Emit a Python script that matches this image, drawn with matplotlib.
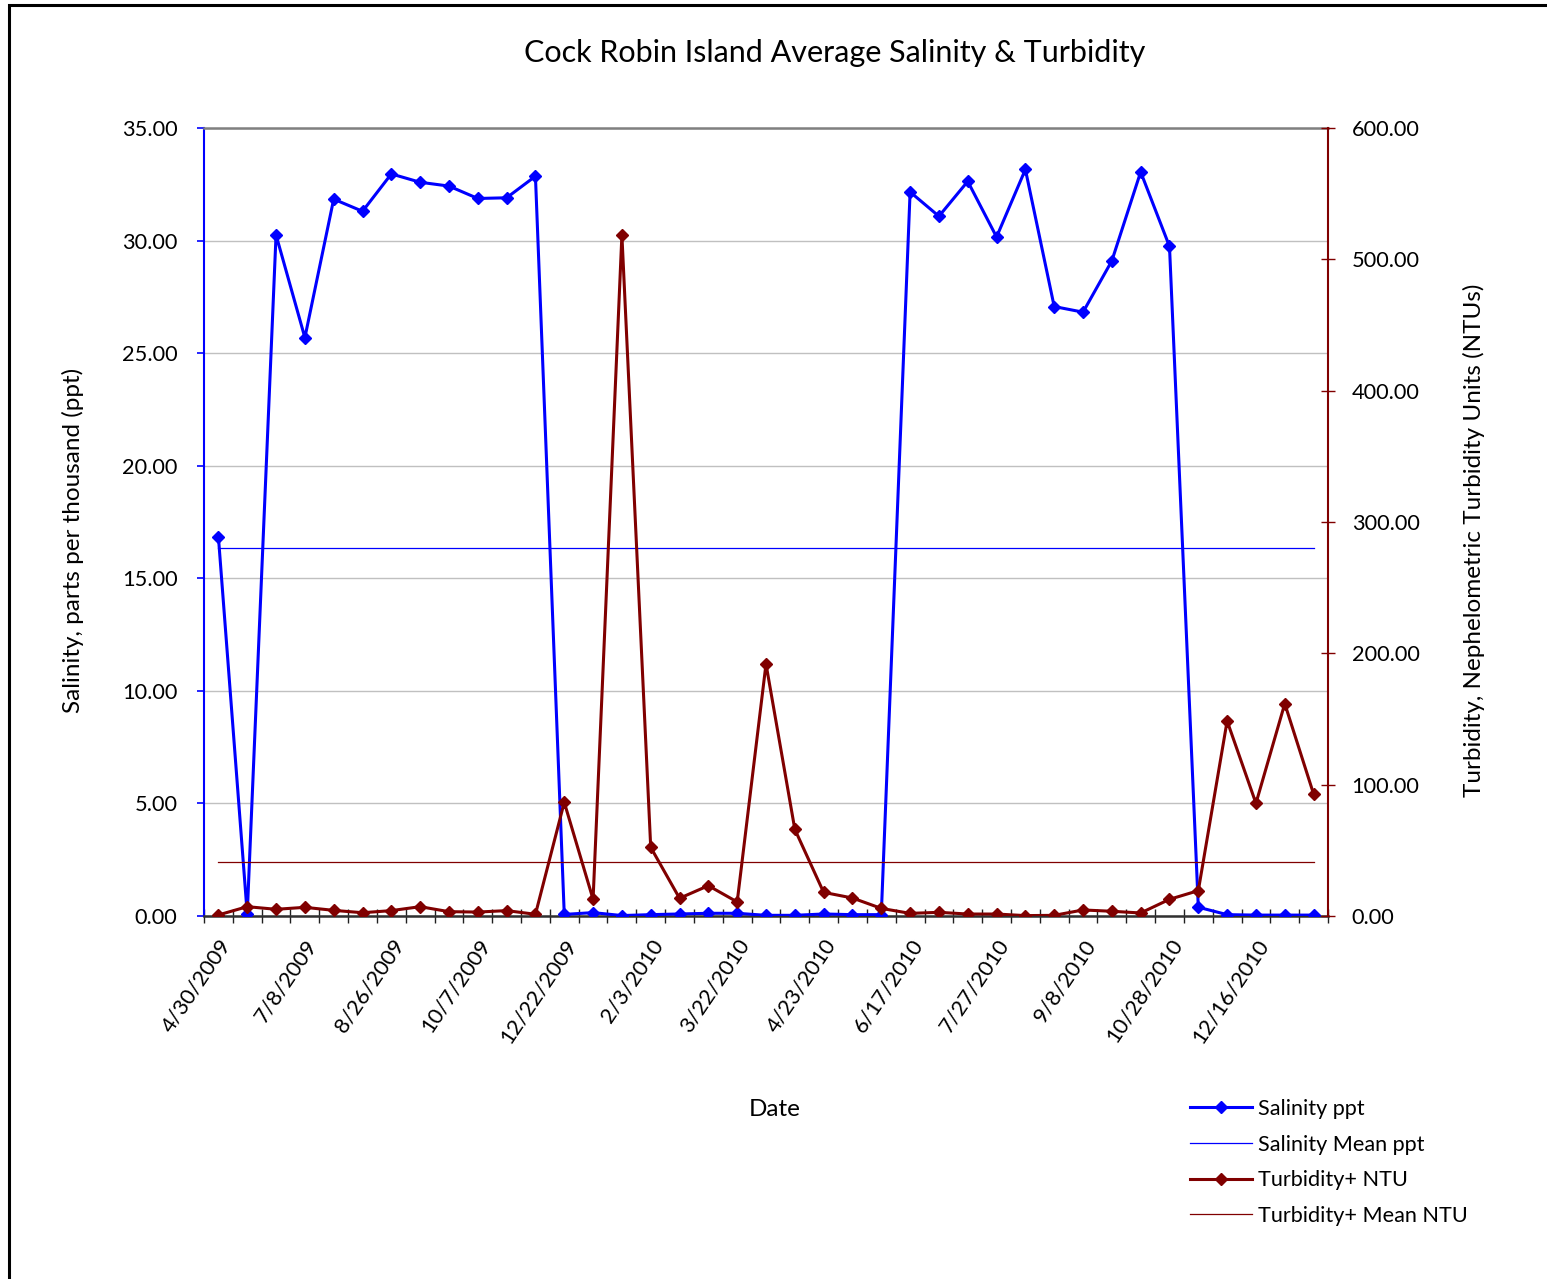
import matplotlib
matplotlib.use("Agg")
import matplotlib.pyplot as plt
from matplotlib.patches import Rectangle
from matplotlib.lines import Line2D
from matplotlib.ticker import FixedLocator, MultipleLocator

plt.rcParams['font.family'] = ['Lato', 'DejaVu Sans']

dates = ["4/30/2009", "", "", "7/8/2009", "", "", "8/26/2009", "", "", "10/7/2009", "", "",
         "12/22/2009", "", "", "2/3/2010", "", "", "3/22/2010", "", "", "4/23/2010", "", "",
         "6/17/2010", "", "", "7/27/2010", "", "", "9/8/2010", "", "", "10/28/2010", "", "",
         "12/16/2010", "", ""]

salinity = [16.84, 0.09, 30.25, 25.69, 31.84, 31.30, 32.96, 32.59, 32.42, 31.87, 31.90, 32.86,
            0.07, 0.15, 0.02, 0.06, 0.09, 0.12, 0.12, 0.03, 0.03, 0.09, 0.06, 0.06,
            32.16, 31.08, 32.63, 30.16, 33.16, 27.07, 26.82, 29.10, 33.05, 29.74,
            0.39, 0.06, 0.04, 0.04, 0.04]

turbidity = [0.8, 7.1, 5.1, 6.6, 4.3, 2.5, 4.1, 7.1, 3.3, 3.0, 4.1, 1.3,
             86.6, 12.7, 518.5, 52.3, 13.5, 23.1, 10.7, 191.9, 66.0, 18.0, 13.7, 5.8,
             2.0, 2.8, 1.5, 1.5, 0.3, 0.5, 4.6, 3.6, 2.3, 12.7, 19.3,
             148.5, 85.8, 161.7, 92.9]

salinity_mean = 16.35
turbidity_mean = 40.9

BLUE = "#0000FF"
RED = "#800000"

W, H = 1547, 1279
fig = plt.figure(figsize=(W / 100, H / 100), dpi=100)
ax = fig.add_axes([204 / W, 1 - 916 / H, (1328 - 204) / W, (916 - 128) / H])
ax2 = ax.twinx()

n = len(salinity)
x = list(range(n))

ax.plot(x, [salinity_mean] * n, color=BLUE, lw=0.9, zorder=2)
ax.plot(x, salinity, color=BLUE, lw=2.2, marker='D', ms=6.5, zorder=3)
ax2.plot(x, [turbidity_mean] * n, color=RED, lw=0.9, zorder=2)
ax2.plot(x, turbidity, color=RED, lw=2.2, marker='D', ms=6.5, zorder=3)

ax.set_xlim(-0.5, n - 0.5)
ax.set_ylim(0, 35)
ax2.set_ylim(0, 600)

ax.yaxis.set_major_locator(MultipleLocator(5))
ax.yaxis.set_major_formatter(matplotlib.ticker.FormatStrFormatter('%.2f'))
ax2.yaxis.set_major_locator(MultipleLocator(100))
ax2.yaxis.set_major_formatter(matplotlib.ticker.FormatStrFormatter('%.2f'))

ax.grid(axis='y', color='#c0c0c0', lw=1.0)
ax.set_axisbelow(True)

TICK_FS = 15.7
LABEL_FS = 17.5

# x ticks: labels every category with text, tick marks between categories
ax.set_xticks(x)
ax.set_xticklabels(dates, rotation=56, ha='right', rotation_mode='anchor', fontsize=TICK_FS)
ax.tick_params(axis='x', which='major', length=0, pad=14)
ax.xaxis.set_minor_locator(FixedLocator([i - 0.5 for i in range(n + 1)]))
ax.tick_params(axis='x', which='minor', direction='inout', length=10, width=1.0, color='#202020')

ax.tick_params(axis='y', direction='out', length=5, width=1.2, color=BLUE, labelsize=TICK_FS, pad=14)
ax2.tick_params(axis='y', direction='inout', length=10, width=1.0, color=RED, labelsize=TICK_FS, pad=12)

ax.spines['left'].set_color(BLUE)
ax.spines['left'].set_linewidth(1.5)
ax.spines['top'].set_color('#808080')
ax.spines['top'].set_linewidth(1.8)
ax.spines['bottom'].set_color('#303030')
ax.spines['bottom'].set_linewidth(1.8)
ax.spines['right'].set_visible(False)
ax2.spines['right'].set_color(RED)
ax2.spines['right'].set_linewidth(1.5)
for s in ['left', 'top', 'bottom']:
    ax2.spines[s].set_visible(False)

fig.text(835 / W, 1 - 53 / H, "Cock Robin Island Average Salinity & Turbidity",
         ha='center', va='center', fontsize=22)
fig.text(775 / W, 1 - 1110 / H, "Date", ha='center', va='center', fontsize=LABEL_FS)
fig.text(73 / W, 1 - 540 / H, "Salinity, parts per thousand (ppt)", ha='center', va='center',
         rotation=90, fontsize=LABEL_FS)
fig.text(1474 / W, 1 - 540 / H, "Turbidity, Nephelometric Turbidity Units (NTUs)", ha='center',
         va='center', rotation=90, fontsize=LABEL_FS)

handles = [
    Line2D([], [], color=BLUE, lw=2.2, marker='D', ms=6.5),
    Line2D([], [], color=BLUE, lw=0.9),
    Line2D([], [], color=RED, lw=2.2, marker='D', ms=6.5),
    Line2D([], [], color=RED, lw=0.9),
]
labels = ["Salinity ppt", "Salinity Mean ppt", "Turbidity+ NTU", "Turbidity+ Mean NTU"]
fig.legend(handles, labels, loc='upper left', bbox_to_anchor=(1190 / W, 1 - 1099 / H),
           frameon=False, fontsize=15.6, handlelength=2.85, handletextpad=0.3,
           labelspacing=0.72, borderpad=0, borderaxespad=0)

fig.add_artist(Rectangle((8.5 / W, -0.1), 2, 0.1 + 1 - 5 / H, transform=fig.transFigure,
                         fill=False, lw=2.2, edgecolor='black'))

fig.savefig("out.png", dpi=100)
